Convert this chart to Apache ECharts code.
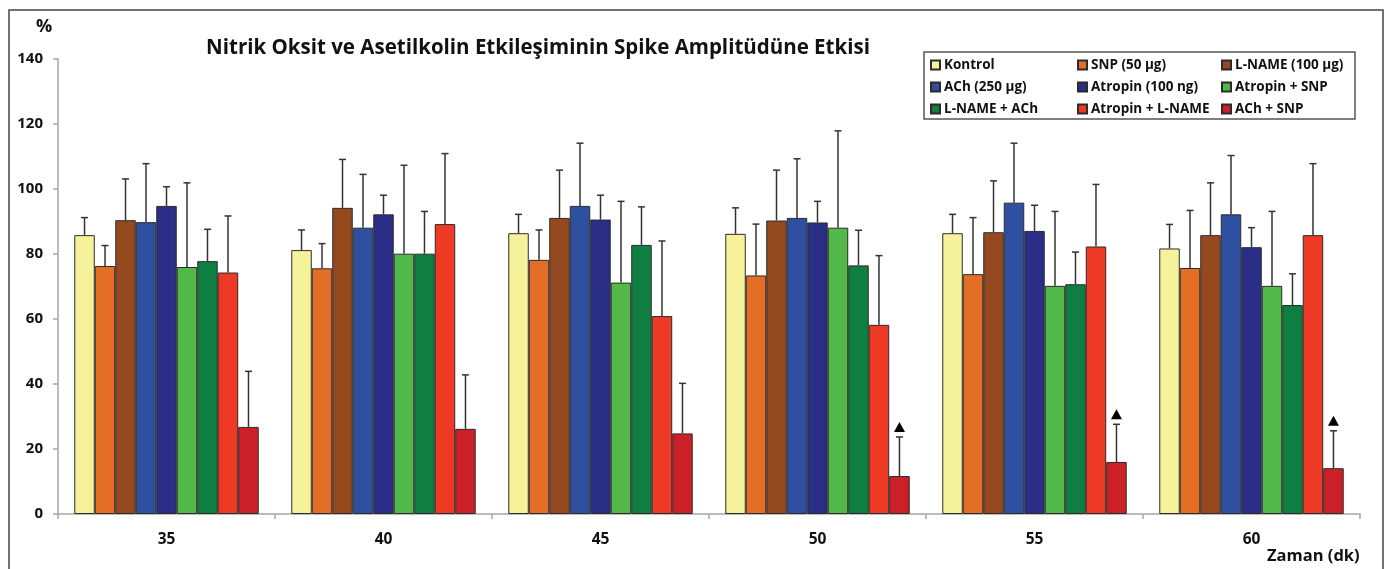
<!DOCTYPE html>
<html>
<head>
<meta charset="utf-8">
<title>Spike Amplitüdü</title>
<script src="https://cdn.jsdelivr.net/npm/echarts@6/dist/echarts.min.js"></script>
<style>
html,body{margin:0;padding:0;background:#fff;}
#chart{width:1386px;height:569px;}
</style>
</head>
<body>
<div id="chart"></div>
<script>
// kategoriler (dakika)
var categories = ['35', '40', '45', '50', '55', '60'];
var yTicks = [0, 20, 40, 60, 80, 100, 120, 140];

// ortalama degerler (%)
var kontrol   = [85.8, 81.2, 86.4, 86.2, 86.4, 81.7];
var snp       = [76.3, 75.6, 78.2, 73.4, 73.8, 75.7];
var lname     = [90.4, 94.2, 91.1, 90.3, 86.7, 85.8];
var ach       = [89.8, 88.1, 94.8, 91.1, 95.8, 92.2];
var atropin   = [94.8, 92.2, 90.6, 89.7, 87.1, 82.1];
var atrSnp    = [76.0, 80.1, 71.2, 88.1, 70.2, 70.2];
var lnameAch  = [77.8, 80.1, 82.8, 76.5, 70.7, 64.3];
var atrLname  = [74.3, 89.2, 60.9, 58.2, 82.3, 85.8];
var achSnp    = [26.8, 26.2, 24.8, 11.7, 16.0, 14.1];

// standart sapmalar
var kontrolSd  = [5.4, 6.2, 5.8, 8.0, 5.8, 7.4];
var snpSd      = [6.3, 7.6, 9.2, 15.8, 17.4, 17.7];
var lnameSd    = [12.7, 14.9, 14.7, 15.5, 15.8, 16.1];
var achSd      = [18.0, 16.4, 19.3, 18.2, 18.3, 18.1];
var atropinSd  = [5.9, 5.9, 7.5, 6.5, 7.9, 6.0];
var atrSnpSd   = [25.9, 27.2, 25.0, 29.8, 22.9, 22.9];
var lnameAchSd = [9.8, 13.0, 11.7, 10.8, 9.9, 9.6];
var atrLnameSd = [17.4, 21.7, 23.1, 21.3, 19.1, 22.0];
var achSnpSd   = [17.1, 16.6, 15.4, 12.0, 11.6, 11.5];

// anlamlilik isareti (ACh + SNP)
var achSnpSig = [0, 0, 0, 1, 1, 1];

var names = ['Kontrol', 'SNP (50 µg)', 'L-NAME (100 µg)', 'ACh (250 µg)', 'Atropin (100 ng)',
             'Atropin + SNP', 'L-NAME + ACh', 'Atropin + L-NAME', 'ACh + SNP'];
var colors = ['#F6F29B', '#E46E25', '#95491F', '#2F4FA1', '#2A2E86',
              '#52B849', '#0E7F40', '#EE3A24', '#CB2027'];
var means = [kontrol, snp, lname, ach, atropin, atrSnp, lnameAch, atrLname, achSnp];
var sds = [kontrolSd, snpSd, lnameSd, achSd, atropinSd, atrSnpSd, lnameAchSd, atrLnameSd, achSnpSd];
var sigs = [null, null, null, null, null, null, null, null, achSnpSig];

var FONT = '"Open Sans"';
var nBar = names.length;
var groupFill = 0.85;

var myChart = echarts.init(document.getElementById('chart'));

// hata cubugu ciz
function errRender(idx){
	return function(params, api){
		var ci = api.value(0);
		var base = api.coord([ci, api.value(1)]);
		var top = api.coord([ci, api.value(2)]);
		var band = api.size([1, 0])[0];
		var bw = band * groupFill / nBar;
		var x = base[0] - band * groupFill / 2 + bw * (idx + 0.5);
		var st = {stroke: '#333', lineWidth: 1.5};
		var kids = [
			{type: 'line', shape: {x1: x, y1: base[1], x2: x, y2: top[1]}, style: st},
			{type: 'line', shape: {x1: x - 3.5, y1: top[1], x2: x + 3.5, y2: top[1]}, style: st}
		];
		if (api.value(3) === 1) {
			kids.push({type: 'polygon', shape: {points: [[x - 5.5, top[1] - 5], [x + 5.5, top[1] - 5], [x, top[1] - 15]]},
				style: {fill: '#000'}});
		}
		return {type: 'group', children: kids};
	};
}

var series = [];
for (var i = 0; i < nBar; i++) {
	series.push({
		name: names[i],
		type: 'bar',
		data: means[i],
		barGap: '0%',
		barCategoryGap: '15%',
		itemStyle: {color: colors[i], borderColor: '#2b2b2b', borderWidth: 1},
		z: 2
	});
}
for (var j = 0; j < nBar; j++) {
	var d = [];
	for (var k = 0; k < categories.length; k++) {
		d.push([k, means[j][k], means[j][k] + sds[j][k], sigs[j] ? sigs[j][k] : 0]);
	}
	series.push({
		name: 'err' + j,
		type: 'custom',
		renderItem: errRender(j),
		encode: {x: 0, y: [1, 2]},
		data: d,
		z: 3,
		silent: true
	});
}

function legendCol(list, left){
	return {
		orient: 'vertical',
		left: left,
		top: 57,
		padding: 0,
		itemWidth: 9,
		itemHeight: 9,
		itemGap: 6,
		icon: 'rect',
		selectedMode: false,
		textStyle: {fontFamily: FONT, fontWeight: 'bold', fontSize: 13.5, lineHeight: 16, color: '#111', padding: [0, 0, 0, -1]},
		data: list
	};
}

var option = {
	backgroundColor: '#fff',
	animation: false,
	title: {
		text: 'Nitrik Oksit ve Asetilkolin Etkileşiminin Spike Amplitüdüne Etkisi',
		left: 533,
		top: 33,
		textAlign: 'center',
		textStyle: {fontFamily: FONT, fontWeight: 'bold', fontSize: 20.5, color: '#111'}
	},
	legend: [
		legendCol([names[0], names[3], names[6]], 930),
		legendCol([names[1], names[4], names[7]], 1077),
		legendCol([names[2], names[5], names[8]], 1221)
	],
	grid: {left: 58, right: 26, top: 59, bottom: 55},
	xAxis: {
		type: 'category',
		data: categories,
		axisLine: {lineStyle: {color: '#a6a6a6', width: 1.5}},
		axisTick: {show: true, length: 5, lineStyle: {color: '#a6a6a6', width: 1.5}},
		axisLabel: {fontFamily: FONT, fontWeight: 'bold', fontSize: 15.5, color: '#111', margin: 18}
	},
	yAxis: {
		type: 'value',
		min: yTicks[0],
		max: yTicks[yTicks.length - 1],
		interval: 20,
		splitLine: {show: false},
		axisLine: {show: true, lineStyle: {color: '#a6a6a6', width: 1.5}},
		axisTick: {show: true, length: 5, lineStyle: {color: '#a6a6a6', width: 1.5}},
		axisLabel: {fontFamily: FONT, fontWeight: 'bold', fontSize: 15, color: '#111', margin: 15}
	},
	graphic: [
		// dis cerceve
		{type: 'rect', shape: {x: 9, y: 10, width: 1374, height: 600}, style: {fill: null, stroke: '#444', lineWidth: 1.5}, z: -1},
		// legend kutusu
		{type: 'rect', shape: {x: 924, y: 52, width: 431, height: 67}, style: {fill: null, stroke: '#555', lineWidth: 1.5}},
		{type: 'text', left: 36, top: 18, style: {text: '%', font: 'bold 18px "Open Sans"', fill: '#111'}},
		{type: 'text', left: 1267, top: 548, style: {text: 'Zaman (dk)', font: 'bold 16.5px "Open Sans"', fill: '#111'}}
	],
	series: series
};
myChart.setOption(option);
</script>
</body>
</html>
